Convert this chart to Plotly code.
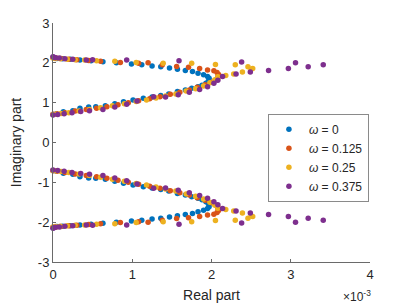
import plotly.graph_objects as go

# Real parts are in units of 1e-3
labels = ["<i>ω</i> = 0", "<i>ω</i> = 0.125", "<i>ω</i> = 0.25", "<i>ω</i> = 0.375"]
colors = ["#0072BD", "#D95319", "#EDB120", "#7E2F8E"]

# omega = 0
re_w0 = [0.00, 0.02, 0.05, 0.12, 0.22, 0.34, 0.48, 0.63, 0.80, 0.99, 1.12, 1.25, 1.36, 1.47, 1.57, 1.67, 1.76, 1.83, 1.90, 1.95, 1.97,
         0.00, 0.03, 0.13, 0.25, 0.34, 0.45, 0.54, 0.66, 0.78, 0.89, 1.01, 1.14, 1.25, 1.36, 1.46, 1.57, 1.67, 1.75, 1.83, 1.88, 1.93, 1.96]
im_w0 = [2.14, 2.12, 2.11, 2.10, 2.09, 2.07, 2.05, 2.03, 2.00, 1.97, 1.95, 1.92, 1.90, 1.87, 1.84, 1.81, 1.78, 1.74, 1.70, 1.66, 1.61,
         0.70, 0.71, 0.77, 0.80, 0.86, 0.89, 0.90, 0.92, 0.97, 1.02, 1.07, 1.11, 1.14, 1.18, 1.22, 1.28, 1.32, 1.36, 1.40, 1.44, 1.49, 1.54]
im_w0_conj = [-2.14, -2.12, -2.11, -2.10, -2.09, -2.07, -2.05, -2.03, -2.00, -1.97, -1.95, -1.92, -1.90, -1.87, -1.84, -1.81, -1.78, -1.74, -1.70, -1.66, -1.61,
              -0.70, -0.71, -0.77, -0.80, -0.86, -0.89, -0.90, -0.92, -0.97, -1.02, -1.07, -1.11, -1.14, -1.18, -1.22, -1.28, -1.32, -1.36, -1.40, -1.44, -1.49, -1.54]

# omega = 0.125
re_w1 = [0.00, 0.04, 0.10, 0.20, 0.30, 0.45, 0.60, 0.85, 1.08, 1.20, 1.38, 1.56, 1.71, 1.85, 1.95, 2.03, 2.07, 2.09, 2.08,
         0.00, 0.05, 0.15, 0.28, 0.42, 0.55, 0.68, 0.82, 0.95, 1.08, 1.22, 1.35, 1.48, 1.60, 1.72, 1.82, 1.92, 2.00, 2.05, 2.08]
im_w1 = [2.13, 2.12, 2.11, 2.09, 2.08, 2.06, 2.04, 2.01, 1.99, 2.00, 1.95, 1.91, 1.89, 1.86, 1.82, 1.80, 1.76, 1.71, 1.65,
         0.71, 0.72, 0.75, 0.79, 0.83, 0.86, 0.90, 0.95, 1.00, 1.05, 1.10, 1.15, 1.21, 1.26, 1.32, 1.39, 1.45, 1.51, 1.57, 1.62]
im_w1_conj = [-2.13, -2.12, -2.11, -2.09, -2.08, -2.06, -2.04, -2.01, -1.99, -2.00, -1.95, -1.91, -1.89, -1.86, -1.82, -1.80, -1.76, -1.71, -1.65,
              -0.71, -0.72, -0.75, -0.79, -0.83, -0.86, -0.90, -0.95, -1.00, -1.05, -1.10, -1.15, -1.21, -1.26, -1.32, -1.39, -1.45, -1.51, -1.57, -1.62]

# omega = 0.25
re_w2 = [0.00, 0.03, 0.09, 0.18, 0.28, 0.40, 0.55, 0.78, 1.05, 1.39, 1.75, 2.05, 2.30, 2.46, 2.52, 2.50, 2.39, 2.28, 2.18, 2.08,
         0.00, 0.04, 0.10, 0.20, 0.33, 0.46, 0.60, 0.75, 0.90, 1.05, 1.18, 1.30, 1.42, 1.55, 1.68, 1.80, 1.90, 1.98, 2.04]
im_w2 = [2.12, 2.11, 2.10, 2.09, 2.08, 2.07, 2.05, 2.04, 2.01, 1.99, 1.99, 1.96, 1.95, 1.90, 1.86, 1.84, 1.77, 1.72, 1.68, 1.65,
         0.70, 0.71, 0.73, 0.75, 0.79, 0.83, 0.87, 0.92, 0.97, 1.03, 1.07, 1.12, 1.17, 1.22, 1.29, 1.35, 1.42, 1.50, 1.57]
im_w2_conj = [-2.12, -2.11, -2.10, -2.09, -2.08, -2.07, -2.05, -2.04, -2.01, -1.99, -1.99, -1.96, -1.95, -1.90, -1.86, -1.84, -1.77, -1.72, -1.68, -1.65,
              -0.70, -0.71, -0.73, -0.75, -0.79, -0.83, -0.87, -0.92, -0.97, -1.03, -1.07, -1.12, -1.17, -1.22, -1.29, -1.35, -1.42, -1.50, -1.57]

# omega = 0.375
re_w3 = [0.00, 0.01, 0.03, 0.08, 0.15, 0.25, 0.42, 0.50, 0.93, 1.59, 2.38, 3.06, 3.41, 3.22, 2.97, 2.72, 2.49, 2.31, 2.14,
         0.00, 0.06, 0.14, 0.24, 0.35, 0.46, 0.63, 0.78, 0.93, 1.06, 1.27, 1.42, 1.58, 1.72, 1.85, 1.95, 2.03, 2.08]
im_w3 = [2.15, 2.14, 2.13, 2.12, 2.10, 2.09, 2.07, 2.08, 2.07, 2.05, 2.02, 2.00, 1.95, 1.90, 1.86, 1.81, 1.77, 1.72, 1.66,
         0.69, 0.70, 0.72, 0.75, 0.78, 0.80, 0.83, 0.89, 0.96, 1.04, 1.15, 1.14, 1.20, 1.26, 1.33, 1.40, 1.49, 1.56]
im_w3_conj = [-2.15, -2.14, -2.13, -2.12, -2.10, -2.09, -2.07, -2.08, -2.07, -2.05, -2.02, -2.00, -1.95, -1.90, -1.86, -1.81, -1.77, -1.72, -1.66,
              -0.69, -0.70, -0.72, -0.75, -0.78, -0.80, -0.83, -0.89, -0.96, -1.04, -1.15, -1.14, -1.20, -1.26, -1.33, -1.40, -1.49, -1.56]

series = [
    (re_w0, im_w0, im_w0_conj),
    (re_w1, im_w1, im_w1_conj),
    (re_w2, im_w2, im_w2_conj),
    (re_w3, im_w3, im_w3_conj),
]

x_ticks = [0, 1, 2, 3, 4]
y_ticks = [-3, -2, -1, 0, 1, 2, 3]

FONT = "Liberation Sans, Arial, sans-serif"
TXT = "#262626"

fig = go.Figure()
for (re, im, imc), lab, col in zip(series, labels, colors):
    fig.add_trace(go.Scatter(
        x=re + re, y=im + imc, mode="markers", name=lab,
        marker=dict(color=col, size=5.5, line=dict(width=0)),
        cliponaxis=False,
    ))

axis_common = dict(
    showgrid=False, zeroline=False, showline=True, linecolor="#6a6a6a", linewidth=1,
    ticks="inside", ticklen=3, tickcolor="#6a6a6a", mirror=False, automargin=False,
    tickfont=dict(family=FONT, size=13, color=TXT),
)

fig.update_layout(
    width=401, height=299,
    margin=dict(l=45, r=39, t=15, b=45),
    plot_bgcolor="white", paper_bgcolor="white",
    xaxis=dict(range=[0, 4], tickvals=x_ticks, ticktext=[str(v) for v in x_ticks],
               title=dict(text="Real part", standoff=9,
                          font=dict(family=FONT, size=14, color=TXT)),
               **axis_common),
    yaxis=dict(range=[-3, 3], tickvals=y_ticks, ticktext=[str(v) for v in y_ticks],
               title=dict(text="Imaginary part", standoff=14,
                          font=dict(family=FONT, size=14, color=TXT)),
               **axis_common),
    legend=dict(x=0.678, y=0.62, xanchor="left", yanchor="top",
                bgcolor="white", bordercolor="#8a8a8a", borderwidth=1,
                font=dict(family=FONT, size=12, color=TXT),
                itemsizing="trace", itemwidth=30, tracegroupgap=0),
    showlegend=True,
    annotations=[dict(text="×10<sup>-3</sup>", xref="paper", yref="paper", x=1.01, y=-0.1,
                      xanchor="right", yanchor="top", showarrow=False,
                      font=dict(family=FONT, size=12, color=TXT))],
)

fig.write_html("out.html")
